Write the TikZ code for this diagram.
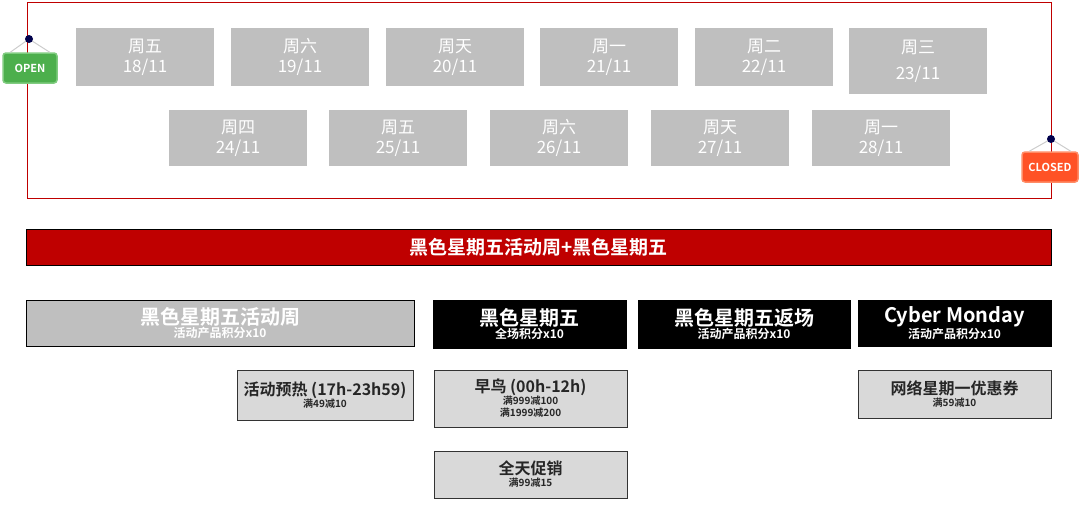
\documentclass[tikz,border=0pt]{standalone}
\usepackage{fontspec}
\setmainfont{Noto Sans CJK SC}[BoldFont={Noto Sans CJK SC Bold}]
\begin{document}
\begin{tikzpicture}[x=1pt,y=-1pt,
 day/.style={fill=gray!50!white,draw=none,text=white,align=center,font=\fontsize{17}{20}\selectfont},
 cat/.style={draw=black,line width=0.8pt,align=center,font=\bfseries},
 sub/.style={fill=gray!30,draw=black!80,line width=1pt,align=center,text=black!85,font=\bfseries},
 sign/.style={rounded corners=3pt,text=white,font=\bfseries\fontsize{11}{12}\selectfont}]
\useasboundingbox (0,0) rectangle (1080,506);
\draw[red!75!black,line width=0.8pt] (27,2) rectangle (1051,198);
\def\dbox#1#2#3#4#5#6{\node[day,minimum width=138pt,minimum height=#4pt] (#1) at (#2,#3) {#5\\#6};}
\dbox{d1}{145}{57}{58}{周五}{18/11}
\dbox{d2}{300}{57}{58}{周六}{19/11}
\dbox{d3}{455}{57}{58}{周天}{20/11}
\dbox{d4}{609}{57}{58}{周一}{21/11}
\dbox{d5}{764}{57}{58}{周二}{22/11}
\node[day,minimum width=138pt,minimum height=66pt] (d6) at (918,61) {周三\\[6pt]23/11};
\dbox{e1}{238}{138}{56}{周四}{24/11}
\dbox{e2}{398}{138}{56}{周五}{25/11}
\dbox{e3}{559}{138}{56}{周六}{26/11}
\dbox{e4}{720}{138}{56}{周天}{27/11}
\dbox{e5}{881}{138}{56}{周一}{28/11}
% signs
\coordinate (p1) at (29,39);
\node[sign,fill=green!55!black!70,draw=green!60!black!50,line width=1.5pt,minimum width=54pt,minimum height=30pt] (open) at (30,68) {OPEN};
\draw[gray!40,line width=1pt] (p1) -- ([xshift=-8pt]open.north east);
\draw[gray!40,line width=1pt] (p1) -- ([xshift=8pt]open.north west);
\fill[black!70!blue] (p1) circle (4);
\coordinate (p2) at (1051,139);
\node[sign,fill=red!60!orange!85,draw=red!50!orange!60,line width=1.5pt,minimum width=56pt,minimum height=30pt] (closed) at (1050,167) {CLOSED};
\draw[gray!40,line width=1pt] (p2) -- ([xshift=8pt]closed.north west);
\draw[gray!40,line width=1pt] (p2) -- ([xshift=-8pt]closed.north east);
\fill[black!70!blue] (p2) circle (4);
% banner
\node[draw=black,fill=red!75!black,text=white,font=\bfseries\fontsize{19}{21}\selectfont,minimum width=1025pt,minimum height=36pt] (ban) at (538.5,247) {黑色星期五活动周+黑色星期五};
% categories
\node[cat,fill=gray!50,text=white,minimum width=388pt,minimum height=46pt] (c1) at (220,323) {{\fontsize{20}{22}\selectfont 黑色星期五活动周}\\{\fontsize{12}{13}\selectfont 活动产品积分x10}};
\node[cat,fill=black,text=white,minimum width=193pt,minimum height=48pt] (c2) at (529.5,324) {{\fontsize{20}{22}\selectfont 黑色星期五}\\{\fontsize{12}{13}\selectfont 全场积分x10}};
\node[cat,fill=black,text=white,minimum width=212pt,minimum height=48pt] (c3) at (744,324) {{\fontsize{20}{22}\selectfont 黑色星期五返场}\\{\fontsize{12}{13}\selectfont 活动产品积分x10}};
\node[cat,fill=black,text=white,minimum width=193pt,minimum height=46pt] (c4) at (954.5,323) {{\fontsize{20}{22}\selectfont Cyber Monday}\\{\fontsize{12}{13}\selectfont 活动产品积分x10}};
% subs
\node[sub,minimum width=176pt,minimum height=50pt] (s1) at (325,395) {{\fontsize{16}{18}\selectfont 活动预热 (17h-23h59)}\\{\fontsize{10}{11}\selectfont 满49减10}};
\node[sub,minimum width=193pt,minimum height=57pt] (s2) at (530.5,398.5) {{\fontsize{16}{18}\selectfont 早鸟 (00h-12h)}\\{\fontsize{10}{11}\selectfont 满999减100}\\{\fontsize{10}{11}\selectfont 满1999减200}};
\node[sub,minimum width=193pt,minimum height=47pt] (s3) at (530.5,474.5) {{\fontsize{16}{18}\selectfont 全天促销}\\{\fontsize{10}{11}\selectfont 满99减15}};
\node[sub,minimum width=193pt,minimum height=48pt] (s4) at (954.5,394) {{\fontsize{16}{18}\selectfont 网络星期一优惠券}\\{\fontsize{10}{11}\selectfont 满59减10}};
\end{tikzpicture}
\end{document}
